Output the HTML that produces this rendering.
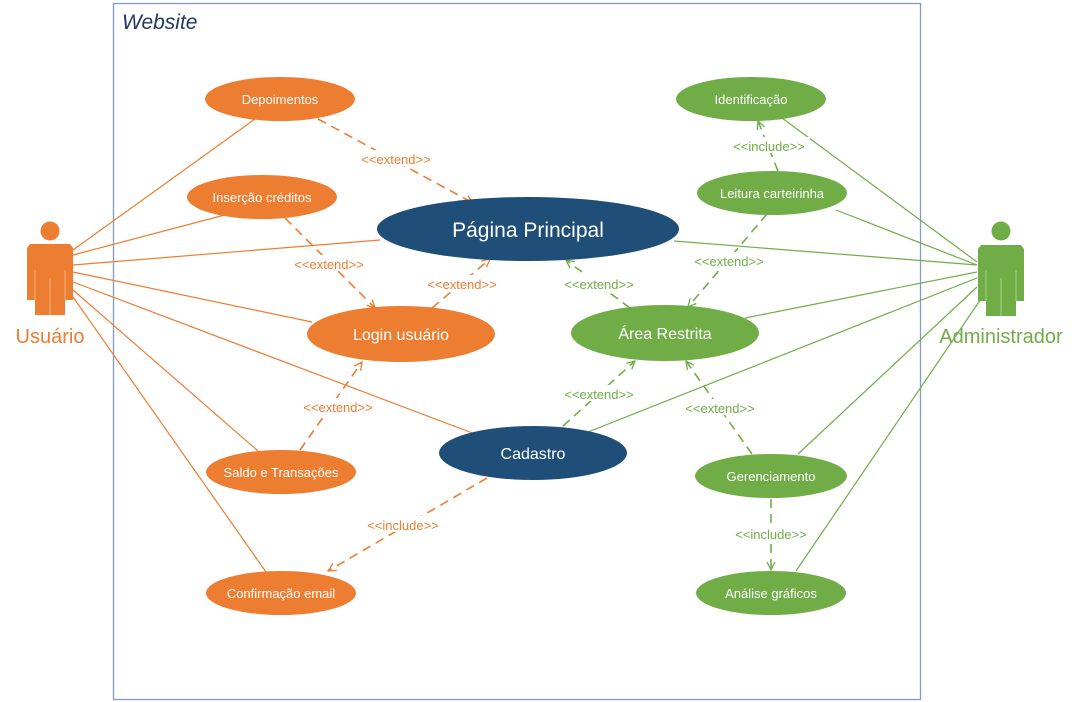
<!DOCTYPE html>
<html><head><meta charset="utf-8"><style>
html,body{margin:0;padding:0;background:#fff;width:1084px;height:702px;overflow:hidden}
svg{display:block;font-family:"Liberation Sans",sans-serif}
.o{stroke:#ED7D31;stroke-width:1.2;fill:none}
.g{stroke:#70AD47;stroke-width:1.2;fill:none}
.od{stroke:#ED7D31;stroke-width:1.6;fill:none;stroke-dasharray:9 6}
.gd{stroke:#70AD47;stroke-width:1.6;fill:none;stroke-dasharray:9 6}
.lo{fill:#ED7D31;font-size:13px;text-anchor:middle}
.lg{fill:#70AD47;font-size:13px;text-anchor:middle}
.t{fill:#fff;font-size:13px;text-anchor:middle}
.T{fill:#fff;font-size:16px;text-anchor:middle}
</style></head><body>
<svg width="1084" height="702" viewBox="0 0 1084 702">
<defs>
<marker id="ao" markerWidth="10" markerHeight="10" refX="9" refY="5" orient="auto" markerUnits="userSpaceOnUse"><path d="M1,1 L9,5 L1,9" fill="none" stroke="#ED7D31" stroke-width="1.3"/></marker>
<marker id="ag" markerWidth="10" markerHeight="10" refX="9" refY="5" orient="auto" markerUnits="userSpaceOnUse"><path d="M1,1 L9,5 L1,9" fill="none" stroke="#70AD47" stroke-width="1.3"/></marker>
</defs>
<rect x="113.5" y="3.5" width="807" height="696" fill="none" stroke="#7F9DC6" stroke-width="1.3"/>
<text x="122" y="29" font-size="21" font-style="italic" fill="#1F3864">Website</text>

<!-- actor lines -->
<g class="o">
<line x1="73" y1="250" x2="255" y2="119"/>
<line x1="73" y1="255" x2="236" y2="212"/>
<line x1="73" y1="265" x2="380" y2="240"/>
<line x1="73" y1="272" x2="312" y2="322"/>
<line x1="73" y1="282" x2="475" y2="434"/>
<line x1="73" y1="290" x2="258" y2="451"/>
<line x1="73" y1="297" x2="266" y2="572"/>
</g>
<g class="g">
<line x1="977" y1="262" x2="782" y2="118"/>
<line x1="977" y1="265" x2="836" y2="210"/>
<line x1="977" y1="265" x2="674" y2="241"/>
<line x1="977" y1="272" x2="745" y2="318"/>
<line x1="977" y1="278" x2="588" y2="432"/>
<line x1="977" y1="287" x2="798" y2="454"/>
<line x1="987" y1="290" x2="796" y2="571"/>
</g>

<!-- dashed -->
<line class="od" x1="318" y1="119" x2="473" y2="203" marker-end="url(#ao)"/>
<line class="od" x1="285" y1="218" x2="375" y2="308" marker-end="url(#ao)"/>
<line class="od" x1="432" y1="308" x2="490" y2="259" marker-end="url(#ao)"/>
<line class="od" x1="300" y1="450" x2="362" y2="362" marker-end="url(#ao)"/>
<line class="od" x1="487" y1="478" x2="328" y2="571" marker-end="url(#ao)"/>
<line class="gd" x1="630" y1="308" x2="566" y2="260" marker-end="url(#ag)"/>
<line class="gd" x1="767" y1="214" x2="688" y2="307" marker-end="url(#ag)"/>
<line class="gd" x1="778" y1="171" x2="758" y2="121" marker-end="url(#ag)"/>
<line class="gd" x1="563" y1="426" x2="635" y2="361" marker-end="url(#ag)"/>
<line class="gd" x1="752" y1="454" x2="686" y2="361" marker-end="url(#ag)"/>
<line class="gd" x1="771" y1="499" x2="771" y2="570" marker-end="url(#ag)"/>

<!-- labels -->
<g>
<rect x="357" y="150" width="78" height="16" fill="#fff"/><text class="lo" x="396" y="164">&lt;&lt;extend&gt;&gt;</text>
<rect x="290" y="255" width="78" height="16" fill="#fff"/><text class="lo" x="329" y="269">&lt;&lt;extend&gt;&gt;</text>
<rect x="423" y="275" width="78" height="16" fill="#fff"/><text class="lo" x="462" y="289">&lt;&lt;extend&gt;&gt;</text>
<rect x="299" y="398" width="78" height="16" fill="#fff"/><text class="lo" x="338" y="412">&lt;&lt;extend&gt;&gt;</text>
<rect x="362" y="516" width="82" height="16" fill="#fff"/><text class="lo" x="403" y="530">&lt;&lt;include&gt;&gt;</text>
<rect x="560" y="275" width="78" height="16" fill="#fff"/><text class="lg" x="599" y="289">&lt;&lt;extend&gt;&gt;</text>
<rect x="690" y="252" width="78" height="16" fill="#fff"/><text class="lg" x="729" y="266">&lt;&lt;extend&gt;&gt;</text>
<rect x="728" y="137" width="82" height="16" fill="#fff"/><text class="lg" x="769" y="151">&lt;&lt;include&gt;&gt;</text>
<rect x="560" y="385" width="78" height="16" fill="#fff"/><text class="lg" x="599" y="399">&lt;&lt;extend&gt;&gt;</text>
<rect x="681" y="399" width="78" height="16" fill="#fff"/><text class="lg" x="720" y="413">&lt;&lt;extend&gt;&gt;</text>
<rect x="730" y="525" width="82" height="16" fill="#fff"/><text class="lg" x="771" y="539">&lt;&lt;include&gt;&gt;</text>
</g>

<!-- ellipses -->
<g fill="#ED7D31">
<ellipse cx="280" cy="99" rx="75" ry="22"/>
<ellipse cx="262" cy="197" rx="75" ry="22"/>
<ellipse cx="401" cy="334" rx="94" ry="28"/>
<ellipse cx="281" cy="472" rx="75" ry="22"/>
<ellipse cx="281" cy="593" rx="75" ry="22"/>
</g>
<g fill="#1F4E79">
<ellipse cx="528" cy="229" rx="151" ry="32"/>
<ellipse cx="533" cy="453" rx="94" ry="27"/>
</g>
<g fill="#70AD47">
<ellipse cx="665" cy="333" rx="94" ry="28"/>
<ellipse cx="751" cy="99" rx="75" ry="22"/>
<ellipse cx="772" cy="193" rx="75" ry="22"/>
<ellipse cx="771" cy="476" rx="76" ry="22"/>
<ellipse cx="771" cy="593" rx="75" ry="22"/>
</g>
<text class="t" x="280" y="104">Depoimentos</text>
<text class="t" x="262" y="202">Inserção créditos</text>
<text class="T" x="401" y="340">Login usuário</text>
<text class="t" x="281" y="477">Saldo e Transações</text>
<text class="t" x="281" y="598">Confirmação email</text>
<text x="528" y="237" fill="#fff" font-size="21" text-anchor="middle">Página Principal</text>
<text class="T" x="533" y="459">Cadastro</text>
<text class="T" x="665" y="339">Área Restrita</text>
<text class="t" x="751" y="104">Identificação</text>
<text class="t" x="772" y="198">Leitura carteirinha</text>
<text class="t" x="771" y="481">Gerenciamento</text>
<text class="t" x="771" y="598">Análise gráficos</text>

<!-- actors -->
<g fill="#ED7D31">
<circle cx="50" cy="231" r="9.5"/>
<path d="M30,244 H70 L73,248 V300 H65 V315 H35 V300 H27 V248 Z"/>
</g>
<g stroke="#F4B183" stroke-width="1"><line x1="35" y1="270" x2="35" y2="300"/><line x1="65" y1="270" x2="65" y2="300"/><line x1="50" y1="278" x2="50" y2="315"/></g>
<text x="50" y="343" font-size="20" fill="#ED7D31" text-anchor="middle">Usuário</text>
<g fill="#70AD47">
<circle cx="1001" cy="231" r="9.5"/>
<path d="M981,245 H1021 L1024,249 V301 H1016 V316 H986 V301 H978 V249 Z"/>
</g>
<g stroke="#A9D18E" stroke-width="1"><line x1="986" y1="270" x2="986" y2="301"/><line x1="1016" y1="270" x2="1016" y2="301"/><line x1="1001" y1="278" x2="1001" y2="316"/></g>
<text x="1001" y="343" font-size="20" fill="#70AD47" text-anchor="middle">Administrador</text>
</svg>
</body></html>
